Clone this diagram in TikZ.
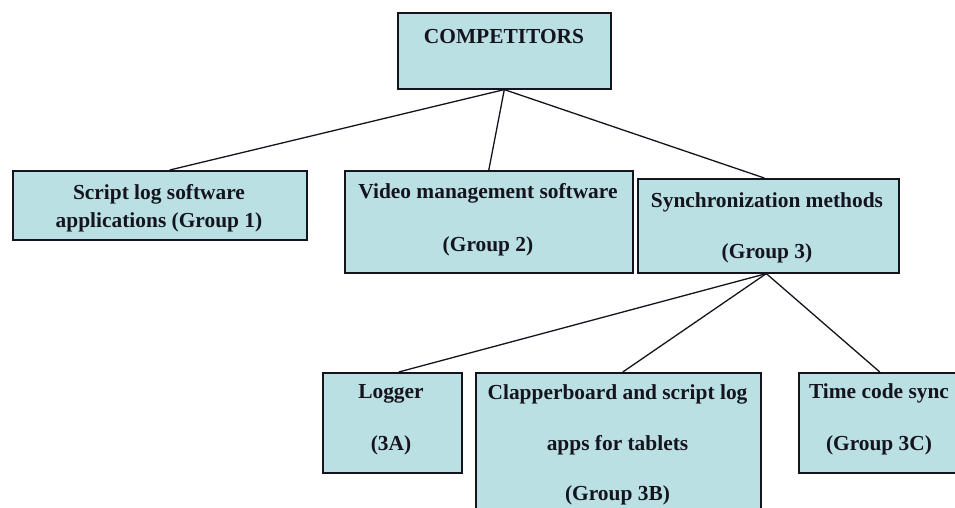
\documentclass[tikz,border=0pt]{standalone}
\usepackage{fontspec}
\setmainfont{Liberation Serif}
\usetikzlibrary{calc}
\definecolor{boxfill}{RGB}{187,224,227}
\definecolor{ink}{RGB}{20,20,30}
\tikzset{
  box/.style={draw=ink, fill=boxfill, line width=1.6pt, anchor=north west, inner sep=0pt},
  lbl/.style={anchor=base, inner sep=0pt, text=ink, font=\bfseries\fontsize{21.4}{25}\selectfont},
  link/.style={draw=ink, line width=1.3pt},
}
\begin{document}
\begin{tikzpicture}[x=1pt, y=-1pt]
\useasboundingbox (0,0) rectangle (955,508);
\clip (0,0) rectangle (955,508);
\fill[white] (0,0) rectangle (955,508);

% boxes
\node[box, minimum width=213pt, minimum height=76pt] (comp) at (397,12) {};
\node[box, minimum width=294pt, minimum height=69pt] (g1) at (12,170) {};
\node[box, minimum width=288pt, minimum height=102pt] (g2) at (344,170) {};
\node[box, minimum width=261pt, minimum height=94pt] (g3) at (637,178) {};
\node[box, minimum width=139pt, minimum height=100pt] (g3a) at (322,372) {};
\node[box, minimum width=285pt, minimum height=150pt] (g3b) at (475,372) {};
\node[box, minimum width=164pt, minimum height=100pt] (g3c) at (798,372) {};

% labels
\node[lbl] (comp-t) at (504,44) {COMPETITORS};
\node[lbl] (g1-t1) at (159,199) {Script log software};
\node[lbl] (g1-t2) at (159,227) {applications (Group 1)};
\node[lbl] (g2-t1) at (488,198) {Video management software};
\node[lbl] (g2-t2) at (488,251) {(Group 2)};
\node[lbl] (g3-t1) at (767,207) {Synchronization methods};
\node[lbl] (g3-t2) at (767,258) {(Group 3)};
\node[lbl] (g3a-t1) at (391,398) {Logger};
\node[lbl] (g3a-t2) at (391,450) {(3A)};
\node[lbl] (g3b-t1) at (617.5,399) {Clapperboard and script log};
\node[lbl] (g3b-t2) at (617.5,450) {apps for tablets};
\node[lbl] (g3b-t3) at (617.5,500) {(Group 3B)};
\node[lbl] (g3c-t1) at (879,398) {Time code sync};
\node[lbl] (g3c-t2) at (879,450) {(Group 3C)};

% attachment points on the box edges
\coordinate (g1-in) at ([xshift=10pt]g1.north);
\coordinate (g3-in) at ([xshift=-4pt]g3.north);
\coordinate (g3-out) at ([xshift=-2pt]g3.south);
\coordinate (g3a-in) at ([xshift=6.5pt]g3a.north);
\coordinate (g3b-in) at ([xshift=4.5pt]g3b.north);
\coordinate (g3c-in) at ([xshift=-1pt]g3c.north);

% connectors
\draw[link] (comp.south) -- (g1-in);
\draw[link] (comp.south) -- (g2.north);
\draw[link] (comp.south) -- (g3-in);
\draw[link] (g3-out) -- (g3a-in);
\draw[link] (g3-out) -- (g3b-in);
\draw[link] (g3-out) -- (g3c-in);
\end{tikzpicture}
\end{document}
